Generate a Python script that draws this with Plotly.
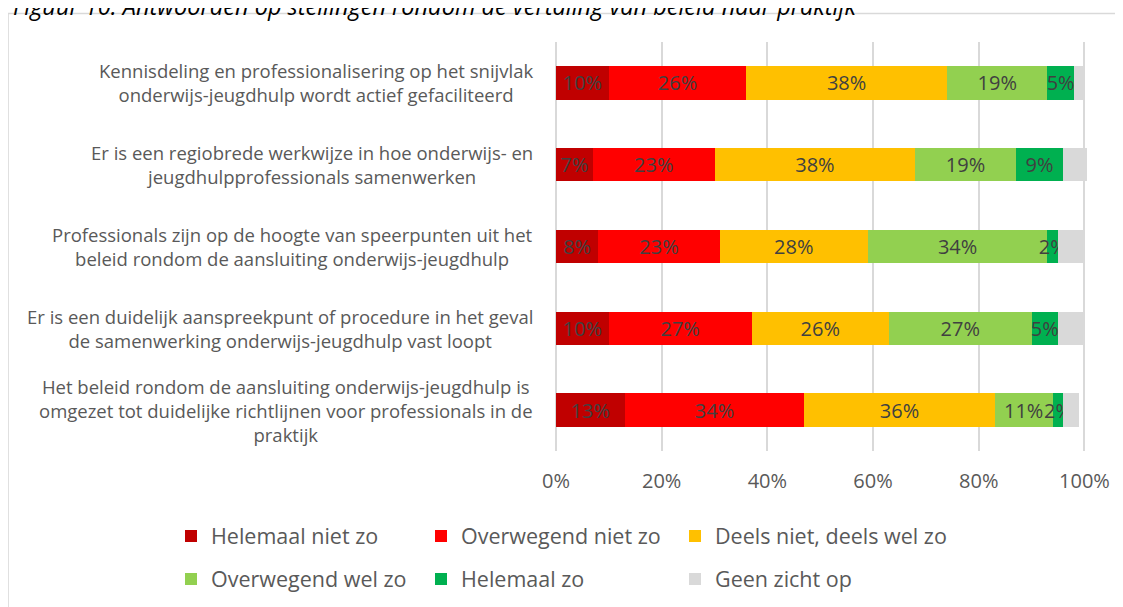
import plotly.graph_objects as go

# ---------------- data ----------------
categories = [
    "Kennisdeling en professionalisering op het snijvlak<br>onderwijs-jeugdhulp wordt actief gefaciliteerd",
    "Er is een regiobrede werkwijze in hoe onderwijs- en<br>jeugdhulpprofessionals samenwerken",
    "Professionals zijn op de hoogte van speerpunten uit het<br>beleid rondom de aansluiting onderwijs-jeugdhulp",
    "Er is een duidelijk aanspreekpunt of procedure in het geval<br>de samenwerking onderwijs-jeugdhulp vast loopt",
    "Het beleid rondom de aansluiting onderwijs-jeugdhulp is<br>omgezet tot duidelijke richtlijnen voor professionals in de<br>praktijk",
]
series_names = [
    "Helemaal niet zo",
    "Overwegend niet zo",
    "Deels niet, deels wel zo",
    "Overwegend wel zo",
    "Helemaal zo",
    "Geen zicht op",
]
helemaal_niet_zo = [10, 7, 8, 10, 13]
overwegend_niet_zo = [26, 23, 23, 27, 34]
deels_niet_deels_wel = [38, 38, 28, 26, 36]
overwegend_wel_zo = [19, 19, 34, 27, 11]
helemaal_zo = [5, 9, 2, 5, 2]
geen_zicht_op = [2, 4.5, 5, 5, 3]
tick_values = [0, 20, 40, 60, 80, 100]
tick_labels = ["0%", "20%", "40%", "60%", "80%", "100%"]
title_text = "Figuur 10: Antwoorden op stellingen rondom de vertaling van beleid naar praktijk"

series_values = [helemaal_niet_zo, overwegend_niet_zo, deels_niet_deels_wel,
                 overwegend_wel_zo, helemaal_zo, geen_zicht_op]
show_labels = [True, True, True, True, True, False]

# ---------------- style / layout (screen pixels) ----------------
colors = ["#C00000", "#FF0000", "#FFC000", "#92D050", "#00B050", "#D9D9D9"]
W, H = 1123, 607
OFF = 8                      # default page margin of the html body
FONT = "Open Sans"
X_MAX = 102
scr_plot_left, px_per_pct = 556, 5.28
scr_plot_top, scr_plot_bottom = 42, 451
plot_left = scr_plot_left - OFF
plot_top, plot_bottom = scr_plot_top - OFF, scr_plot_bottom - OFF
plot_width = px_per_pct * X_MAX
margin = dict(l=plot_left, r=W - plot_left - plot_width, t=plot_top,
              b=H - plot_bottom, autoexpand=False)

# legend slots (left x of each legend box, row centre y) in screen pixels
legend_slots = [(171, 536), (421, 536), (675, 536),
                (171, 579), (421, 579), (675, 579)]


def px_to_paper_x(sx):
    return (sx - OFF - plot_left) / plot_width


def px_to_paper_y(sy):
    return (plot_bottom - (sy - OFF)) / (plot_bottom - plot_top)


fig = go.Figure()
for i, (name, vals) in enumerate(zip(series_names, series_values)):
    fig.add_trace(go.Bar(
        y=categories,
        x=vals,
        name=name,
        orientation="h",
        marker=dict(color=colors[i], line=dict(width=0)),
        text=[f"{v:g}%" for v in vals] if show_labels[i] else None,
        textposition="inside" if show_labels[i] else "none",
        insidetextanchor="middle",
        textangle=0,
        constraintext="none",
        textfont=dict(family=FONT, size=20, color="#404040"),
        legend="legend" if i == 0 else f"legend{i + 1}",
        hoverinfo="skip",
    ))

annotations = []
for cat in categories:
    annotations.append(dict(
        xref="paper", yref="y", x=0, y=cat, xshift=-21,
        xanchor="right", yanchor="middle", align="center",
        text=cat, showarrow=False,
        font=dict(family=FONT, size=18.5, color="#595959"),
    ))
annotations.append(dict(
    xref="paper", yref="paper", x=px_to_paper_x(11), y=px_to_paper_y(24),
    xanchor="left", yanchor="bottom",
    text=title_text, showarrow=False,
    font=dict(family=FONT, size=23.5, color="#000000", style="italic"),
))

shapes = [dict(
    type="rect", xref="paper", yref="paper",
    x0=px_to_paper_x(8.5), x1=px_to_paper_x(W + 20),
    y0=px_to_paper_y(H + 20), y1=px_to_paper_y(13.5),
    line=dict(color="#D9D9D9", width=1.5), fillcolor="rgba(0,0,0,0)",
    layer="below",
)]

legends = {}
for i, (lx, ly) in enumerate(legend_slots):
    key = "legend" if i == 0 else f"legend{i + 1}"
    legends[key] = dict(
        orientation="h", xref="container", yref="container",
        x=(lx - OFF) / W, y=1 - (ly - OFF) / H, xanchor="left", yanchor="middle",
        font=dict(family=FONT, size=21.5, color="#595959"),
        bgcolor="rgba(0,0,0,0)", itemwidth=30,
    )

fig.update_layout(
    width=W, height=H, margin=margin,
    barmode="stack", bargap=0.59,
    plot_bgcolor="white", paper_bgcolor="white",
    font=dict(family=FONT, color="#595959"),
    showlegend=True,
    annotations=annotations,
    shapes=shapes,
    xaxis=dict(
        range=[0, X_MAX], tickmode="array", tickvals=tick_values, ticktext=tick_labels,
        showgrid=True, gridcolor="#D9D9D9", gridwidth=2,
        zeroline=True, zerolinecolor="#D9D9D9", zerolinewidth=2,
        showline=False, ticks="", ticklabelstandoff=16,
        tickfont=dict(family=FONT, size=20, color="#595959"),
        fixedrange=True,
    ),
    yaxis=dict(
        type="category", categoryorder="array", categoryarray=categories,
        autorange="reversed", showticklabels=False, showgrid=False,
        zeroline=False, showline=False, ticks="", fixedrange=True,
    ),
    **legends,
)

fig.write_html("out.html")
